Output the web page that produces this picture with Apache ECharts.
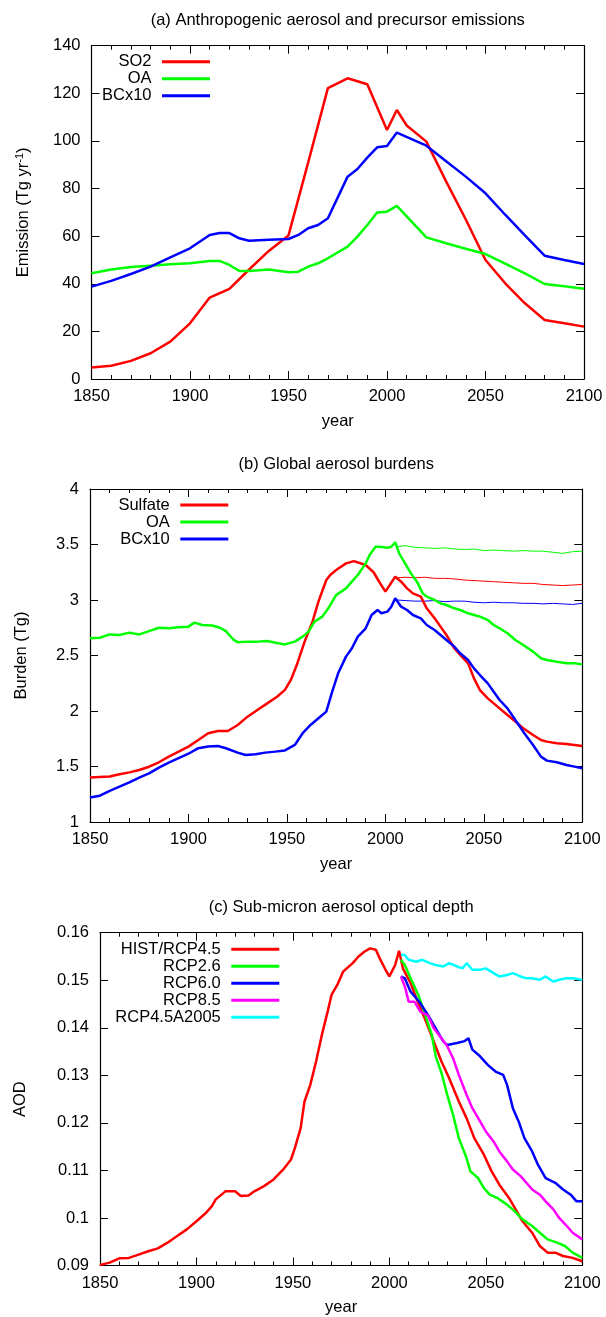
<!DOCTYPE html>
<html><head><meta charset="utf-8">
<script src="https://cdn.jsdelivr.net/npm/echarts@6/dist/echarts.min.js"></script>
<style>html,body{margin:0;padding:0;background:#fff}#c{width:606px;height:1317px}</style>
</head><body><div id="c"></div>
<script>
// ---------- Panel (a): emissions (Tg/yr) ----------
const yearsSO2 = [1850,1860,1870,1880,1890,1900,1910,1920,1930,1940,1950,1960,1970,1980,1990,2000,2005,2010,2020,2030,2040,2050,2060,2070,2080,2090,2100];
const so2      = [4.8,5.6,7.6,10.8,15.7,23.4,34.2,37.9,46.0,53.8,60.3,91.0,122.2,126.3,123.8,104.6,113.0,106.5,99.7,83.0,67.0,50.0,40.2,31.8,24.8,23.4,22.0];
const yearsOA  = [1850,1860,1870,1880,1890,1900,1910,1915,1920,1925,1930,1940,1950,1955,1960,1965,1970,1980,1985,1990,1995,2000,2005,2020,2030,2040,2050,2060,2070,2080,2090,2100];
const oa       = [44.4,46.0,47.0,47.6,48.2,48.6,49.6,49.6,47.9,45.4,45.4,46.0,44.8,45.1,47.2,48.6,50.7,55.6,59.8,64.7,69.9,70.3,72.7,59.5,57.0,54.7,52.5,48.5,44.4,39.9,39.0,37.9];
const yearsBC  = [1850,1860,1870,1880,1890,1900,1910,1915,1920,1925,1930,1940,1950,1955,1960,1965,1970,1980,1985,1990,1995,2000,2005,2020,2030,2040,2050,2060,2070,2080,2090,2100];
const bc10     = [38.8,41.2,44.1,47.2,51.1,54.9,60.5,61.3,61.3,59.1,58.1,58.5,58.8,60.5,63.3,64.7,67.5,85.0,88.2,93.0,97.3,97.9,103.5,98.0,91.5,85.0,78.0,69.0,60.3,51.8,50.0,48.3];

// ---------- Panel (b): burdens (Tg) ----------
const yearsSulB = [1850,1855,1860,1865,1870,1875,1880,1885,1890,1895,
  1900,1905,1910,1915,1920,1925,1930,1935,1940,1945,
  1949,1952,1955,1959,1963,1966,1970,1972,1975,1980,
  1984,1990,1994,1997,2000,2005,2008,2011,2014,2018,
  2021,2025,2028,2031,2035,2038,2042,2045,2048,2052,
  2055,2058,2062,2066,2070,2075,2079,2082,2087,2092,
  2096,2100];
const sulB = [1.400,1.405,1.410,1.430,1.447,1.468,1.498,1.538,1.589,1.634,
  1.679,1.739,1.800,1.820,1.820,1.874,1.949,2.009,2.069,2.129,
  2.190,2.280,2.414,2.625,2.805,2.985,3.180,3.225,3.270,3.330,
  3.350,3.315,3.250,3.160,3.075,3.210,3.165,3.105,3.060,3.030,
  2.925,2.835,2.760,2.685,2.565,2.505,2.430,2.294,2.189,2.114,
  2.069,2.024,1.964,1.904,1.844,1.784,1.739,1.724,1.709,1.703,
  1.694,1.685];
const yearsOAB = [1850,1855,1860,1865,1870,1875,1880,1885,1890,1895,
  1900,1903,1907,1912,1916,1919,1923,1925,1930,1935,
  1940,1945,1949,1954,1958,1961,1964,1968,1971,1975,
  1980,1983,1986,1990,1992,1995,1997,1998,2001,2003,
  2005,2007,2010,2013,2016,2019,2021,2025,2028,2031,
  2035,2038,2042,2045,2048,2052,2055,2058,2062,2066,
  2070,2075,2079,2082,2087,2092,2096,2100];
const oaB = [2.655,2.660,2.690,2.685,2.706,2.690,2.720,2.750,2.745,2.754,
  2.760,2.796,2.775,2.770,2.750,2.720,2.640,2.620,2.625,2.625,
  2.630,2.613,2.600,2.625,2.670,2.715,2.805,2.850,2.925,3.045,
  3.105,3.165,3.225,3.330,3.405,3.480,3.480,3.465,3.470,3.480,
  3.520,3.420,3.330,3.240,3.165,3.060,3.030,3.000,2.970,2.955,
  2.925,2.910,2.880,2.865,2.850,2.820,2.775,2.745,2.700,2.640,
  2.595,2.535,2.475,2.460,2.444,2.430,2.430,2.420];
const yearsBCB = [1850,1855,1860,1865,1870,1875,1880,1885,1890,1895,
  1900,1905,1910,1915,1919,1925,1929,1934,1939,1944,
  1949,1954,1958,1962,1966,1970,1973,1976,1980,1983,
  1986,1990,1993,1996,1998,2001,2003,2005,2008,2011,
  2014,2018,2021,2025,2028,2031,2035,2038,2042,2045,
  2048,2052,2055,2058,2062,2066,2070,2075,2079,2082,
  2087,2092,2096,2100];
const bcB = [1.220,1.237,1.280,1.318,1.357,1.400,1.438,1.490,1.535,1.575,
  1.615,1.665,1.680,1.685,1.664,1.625,1.604,1.610,1.625,1.634,
  1.645,1.694,1.800,1.874,1.934,1.994,2.174,2.340,2.490,2.565,
  2.670,2.745,2.865,2.910,2.880,2.895,2.940,3.015,2.940,2.910,
  2.865,2.835,2.775,2.730,2.685,2.640,2.580,2.520,2.460,2.384,
  2.324,2.249,2.174,2.099,2.024,1.919,1.814,1.694,1.589,1.553,
  1.538,1.514,1.499,1.484];
// constant-2005-emission runs (thin lines)
const yearsFix = [2006,2010,2015,2020,2025,2030,2035,2040,2045,2050,2055,2060,2065,2070,2075,2080,2085,2090,2095,2100];
const sulFix = [3.200,3.205,3.200,3.205,3.195,3.195,3.190,3.180,3.175,3.170,3.165,3.160,3.155,3.150,3.150,3.140,3.135,3.130,3.135,3.140];
const oaFix  = [3.480,3.490,3.475,3.470,3.465,3.470,3.460,3.455,3.460,3.445,3.450,3.445,3.440,3.445,3.440,3.440,3.430,3.420,3.435,3.440];
const bcFix  = [3.000,2.995,2.990,2.990,2.995,2.985,2.990,2.990,2.980,2.975,2.980,2.975,2.975,2.970,2.970,2.965,2.970,2.965,2.960,2.970];

// ---------- Panel (c): sub-micron AOD ----------
const yearsHist = [1850,1855,1860,1865,1870,1875,1880,1885,1890,1895,
  1900,1905,1908,1910,1915,1920,1923,1927,1930,1935,
  1940,1945,1949,1951,1954,1956,1959,1962,1965,1968,
  1970,1973,1976,1981,1984,1987,1990,1993,1995,1998,
  2000,2003,2005,2007,2011,2014,2019,2023,2027,2031,
  2036,2040,2044,2049,2053,2057,2062,2065,2069,2074,
  2078,2082,2086,2090,2095,2100];
const hist = [0.0901,0.0906,0.0915,0.0916,0.0923,0.0930,0.0936,0.0948,0.0962,0.0976,
  0.0993,0.1011,0.1025,0.1039,0.1056,0.1056,0.1046,0.1047,0.1056,0.1067,
  0.1081,0.1102,0.1123,0.1147,0.1189,0.1245,0.1280,0.1329,0.1385,0.1434,
  0.1469,0.1490,0.1518,0.1536,0.1550,0.1560,0.1567,0.1564,0.1546,0.1522,
  0.1508,0.1532,0.1562,0.1525,0.1494,0.1462,0.1413,0.1371,0.1329,0.1294,
  0.1245,0.1210,0.1168,0.1133,0.1098,0.1070,0.1042,0.1021,0.0993,0.0969,
  0.0941,0.0927,0.0927,0.0920,0.0916,0.0909];
const yearsR26 = [2006,2008,2011,2015,2018,2022,2024,2027,2030,2033,2036,2040,2042,2046,2049,2052,2056,2061,2065,2069,2074,2078,2082,2087,2091,2095,2100];
const r26 = [0.1543,0.1532,0.1504,0.1469,0.1434,0.1385,0.1340,0.1305,0.1259,0.1217,0.1168,0.1126,0.1098,0.1084,0.1063,0.1049,0.1042,0.1028,0.1014,0.0997,0.0983,0.0969,0.0955,0.0948,0.0941,0.0927,0.0916];
const yearsR60 = [2006,2008,2011,2016,2020,2024,2028,2030,2035,2039,2041,2043,2047,2051,2055,2059,2061,2064,2067,2070,2074,2077,2081,2086,2090,2094,2097,2100];
const r60 = [0.1508,0.1504,0.1476,0.1452,0.1427,0.1399,0.1371,0.1364,0.1368,0.1372,0.1378,0.1354,0.1340,0.1322,0.1308,0.1301,0.1280,0.1231,0.1203,0.1168,0.1140,0.1112,0.1084,0.1074,0.1060,0.1049,0.1035,0.1035];
const yearsR85 = [2006,2008,2010,2013,2016,2020,2023,2027,2030,2033,2036,2040,2043,2047,2050,2054,2057,2061,2064,2068,2071,2074,2078,2081,2085,2088,2092,2095,2100];
const r85 = [0.1508,0.1487,0.1455,0.1455,0.1434,0.1426,0.1399,0.1378,0.1361,0.1336,0.1301,0.1259,0.1231,0.1203,0.1182,0.1161,0.1140,0.1119,0.1102,0.1088,0.1074,0.1060,0.1049,0.1035,0.1018,0.1000,0.0983,0.0969,0.0955];
const yearsA05 = [2006,2008,2010,2014,2017,2021,2024,2028,2031,2035,2038,2040,2043,2047,2050,2054,2057,2061,2064,2068,2071,2074,2078,2081,2085,2088,2092,2095,2100];
const a05 = [0.1553,0.1553,0.1543,0.1539,0.1543,0.1536,0.1532,0.1529,0.1536,0.1529,0.1525,0.1536,0.1522,0.1522,0.1525,0.1515,0.1508,0.1511,0.1515,0.1508,0.1504,0.1504,0.1501,0.1508,0.1497,0.1501,0.1504,0.1504,0.1501];

// ---------- layout / style ----------
const F = 'Liberation Sans, Arial, Helvetica, sans-serif';
const FS = 16.5;
const RED = '#ff0000', GREEN = '#00ff00', BLUE = '#0000ff', MAG = '#ff00ff', CYAN = '#00ffff';
const zip = (xs, ys) => xs.map((x, i) => [x, ys[i]]);
const txt = {color: '#000', fontFamily: F, fontSize: FS};

const grids = [
  {left: 91.5, top: 45.7, width: 492.5, height: 333.3},
  {left: 90, top: 489, width: 492.3, height: 333},
  {left: 100, top: 932.7, width: 482.3, height: 333}
];
const yCfg = [
  {min: 0, max: 140, interval: 20, name: 'Emission (Tg yr{s|-1})', gap: 60},
  {min: 1, max: 4, interval: 0.5, name: 'Burden (Tg)', gap: 60},
  {min: 0.09, max: 0.16, interval: 0.01, name: 'AOD', gap: 71.5}
];
const titles = [
  {text: '(a) Anthropogenic aerosol and precursor emissions', x: 337.75, y: 12.2},
  {text: '(b) Global aerosol burdens', x: 336.2, y: 455.8},
  {text: '(c) Sub-micron aerosol optical depth', x: 341.2, y: 899.2}
];
const axLine = {show: true, onZero: false, lineStyle: {color: '#000', width: 1.2}};
const xAxes = [], yAxes = [];
grids.forEach((g, gi) => {
  ['bottom', 'top'].forEach(pos => {
    const main = pos === 'bottom';
    xAxes.push({
      type: 'value', gridIndex: gi, position: pos, min: 1850, max: 2100, interval: 50,
      axisLine: axLine,
      axisTick: {show: true, inside: true, length: 8, lineStyle: {color: '#000', width: 1}},
      minorTick: {show: true, splitNumber: 5, length: 4, lineStyle: {color: '#000', width: 1}},
      axisLabel: Object.assign({show: main, margin: 9, formatter: v => String(v)}, txt),
      splitLine: {show: false}, minorSplitLine: {show: false},
      name: main ? 'year' : '', nameLocation: 'middle', nameGap: 33.5,
      nameTextStyle: Object.assign({lineHeight: 17}, txt)
    });
  });
  ['left', 'right'].forEach(pos => {
    const main = pos === 'left';
    const c = yCfg[gi];
    yAxes.push({
      type: 'value', gridIndex: gi, position: pos, min: c.min, max: c.max, interval: c.interval,
      axisLine: axLine,
      axisTick: {show: true, inside: true, length: 8, lineStyle: {color: '#000', width: 1}},
      axisLabel: Object.assign({show: main, margin: 11}, txt),
      splitLine: {show: false},
      name: main ? c.name : '', nameLocation: 'middle', nameGap: c.gap,
      nameTextStyle: Object.assign({lineHeight: 17,
        rich: {s: {fontSize: 11, fontFamily: F, color: '#000', verticalAlign: 'top', lineHeight: 17}}}, txt)
    });
  });
});

const S = (name, gi, xs, ys, color, width) => ({
  type: 'line', name, xAxisIndex: gi * 2, yAxisIndex: gi * 2, data: zip(xs, ys),
  showSymbol: false, symbol: 'none', lineStyle: {color, width}, itemStyle: {color},
  animation: false, emphasis: {disabled: true}
});
const series = [
  S('SO2', 0, yearsSO2, so2, RED, 2.5),
  S('OA', 0, yearsOA, oa, GREEN, 2.5),
  S('BCx10', 0, yearsBC, bc10, BLUE, 2.5),
  S('Sulfate (2005 emissions)', 1, yearsFix, sulFix, RED, 1),
  S('OA (2005 emissions)', 1, yearsFix, oaFix, GREEN, 1),
  S('BCx10 (2005 emissions)', 1, yearsFix, bcFix, BLUE, 1),
  S('Sulfate', 1, yearsSulB, sulB, RED, 2.5),
  S('OA', 1, yearsOAB, oaB, GREEN, 2.5),
  S('BCx10', 1, yearsBCB, bcB, BLUE, 2.5),
  S('HIST/RCP4.5', 2, yearsHist, hist, RED, 2.5),
  S('RCP2.6', 2, yearsR26, r26, GREEN, 2.5),
  S('RCP6.0', 2, yearsR60, r60, BLUE, 2.5),
  S('RCP8.5', 2, yearsR85, r85, MAG, 2.5),
  S('RCP4.5A2005', 2, yearsA05, a05, CYAN, 2.5)
];
const L = (data, right, top) => ({
  data, right, top, orient: 'vertical', align: 'right', icon: 'rect',
  itemWidth: 48, itemHeight: 3, itemGap: 0, padding: 0, selectedMode: false,
  textStyle: Object.assign({lineHeight: 17, padding: [0, 5.5, 0, 0]}, txt)
});

const chart = echarts.init(document.getElementById('c'), null, {renderer: 'canvas'});
chart.setOption({
  animation: false,
  backgroundColor: '#fff',
  title: titles.map(t => ({text: t.text, left: t.x, top: t.y, textAlign: 'center', padding: 0,
    textStyle: Object.assign({fontWeight: 'normal', lineHeight: 17}, txt)})),
  legend: [
    L(['SO2', 'OA', 'BCx10'], 606 - 210, 53.2),
    L(['Sulfate', 'OA', 'BCx10'], 606 - 228.3, 496.5),
    L(['HIST/RCP4.5', 'RCP2.6', 'RCP6.0', 'RCP8.5', 'RCP4.5A2005'], 606 - 279.3, 940.8)
  ],
  grid: grids,
  xAxis: xAxes,
  yAxis: yAxes,
  series
});
</script></body></html>
